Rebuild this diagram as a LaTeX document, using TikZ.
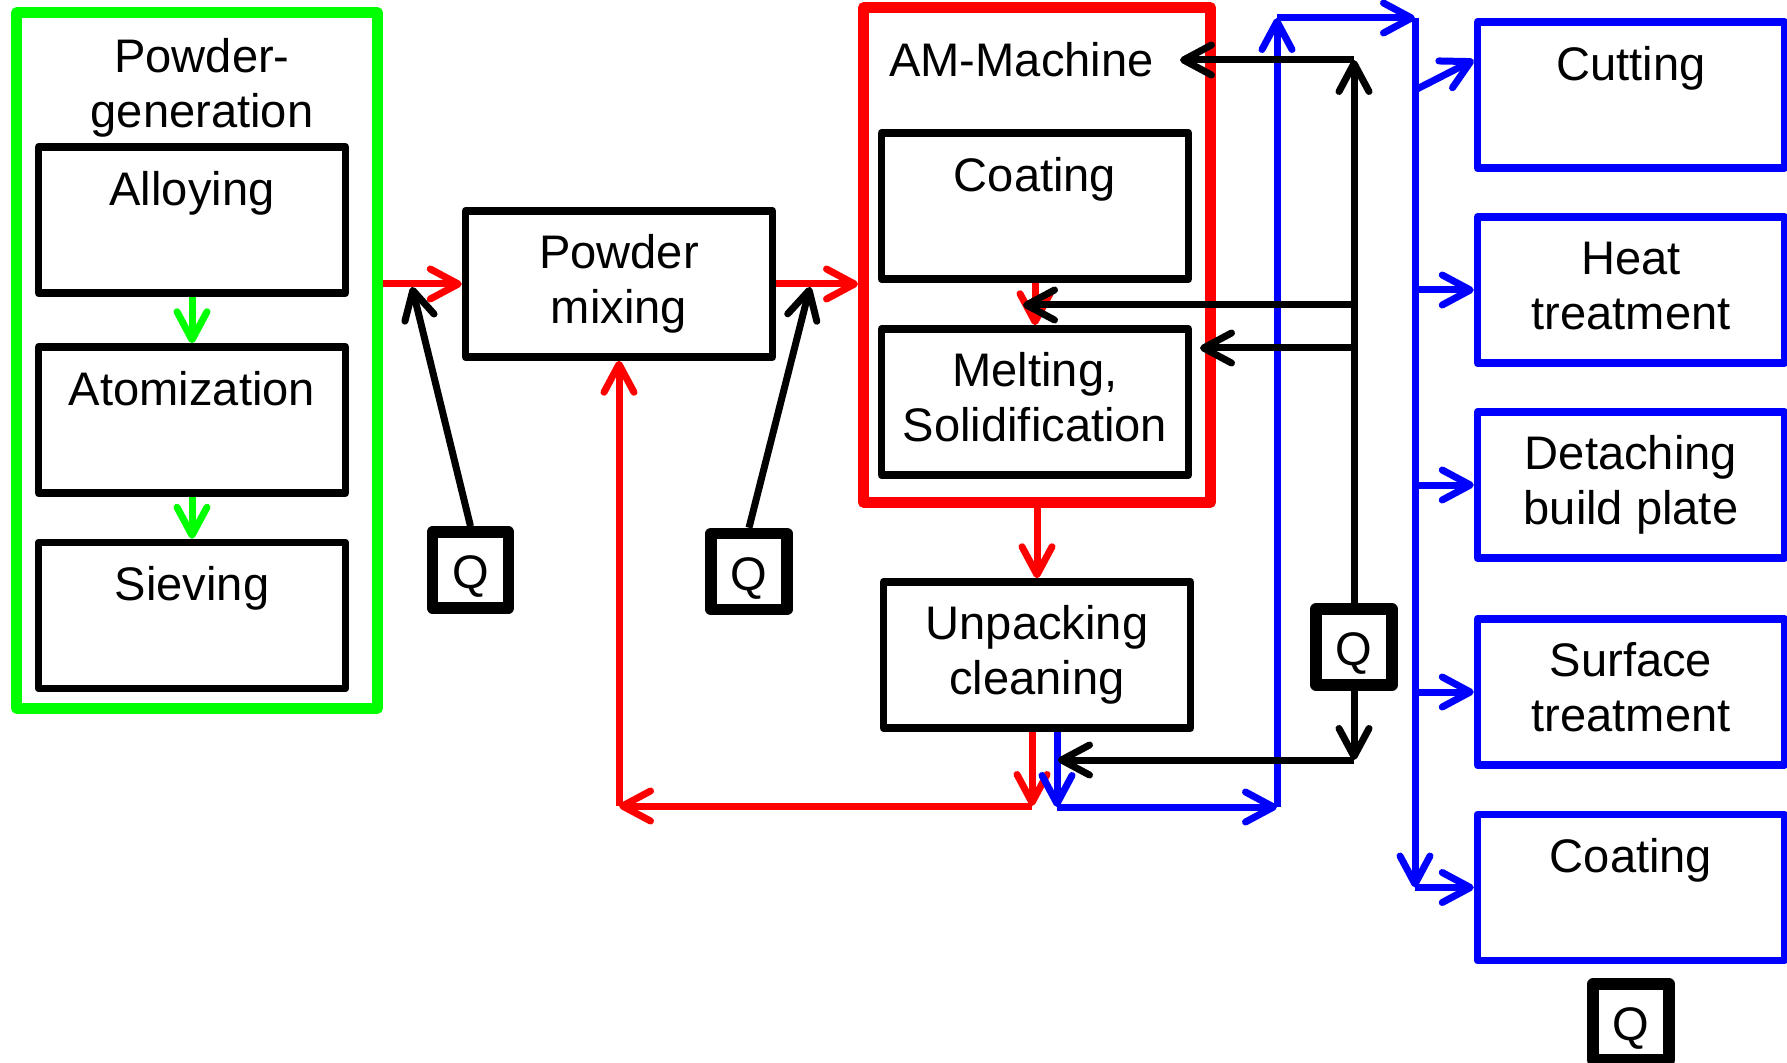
\documentclass[tikz,border=0pt]{standalone}
\usepackage{fontspec}
\setmainfont{Liberation Sans}
\usepackage{xcolor}
\definecolor{flowgreen}{RGB}{0,255,0}
\definecolor{flowred}{RGB}{255,0,0}
\definecolor{flowblue}{RGB}{0,0,255}
\usepackage{tikz}
\usetikzlibrary{positioning,arrows.meta,calc}
\newcommand{\labfont}{\fontsize{13.4pt}{15.6pt}\selectfont}
\tikzset{
  stepbox/.style={rectangle,draw=black,line width=0.75mm,line join=round,
    minimum width=30.7mm,minimum height=14.6mm,inner sep=0pt,align=center,
    font=\labfont},
  postbox/.style={stepbox,draw=flowblue},
  onerow/.style={text height=9.7pt,text depth=18.2pt},
  tworow/.style={text height=25.3pt,text depth=2.8pt},
  qbox/.style={rectangle,draw=black,line width=1.15mm,line join=round,
    minimum size=7.6mm,inner sep=0pt,font=\labfont,
    text height=10.6pt,text depth=0pt},
  framebox/.style={rectangle,line width=1.1mm,line join=round,inner sep=0pt},
  headtext/.style={align=center,inner sep=0pt,font=\labfont},
  fl/.style={-{Straight Barb[length=2.8mm,width=3mm,round]},line width=0.7mm},
}

\begin{document}
\begin{tikzpicture}[x=1mm,y=-1mm]
  \useasboundingbox (0,0) rectangle (178.7,106.3);
  % --- Powder generation ---
  \node[framebox,draw=flowgreen,minimum width=36.1mm,minimum height=69.5mm] (genframe) at (19.7,36.05) {};
  \node[headtext] (gentitle) at (20.2,8.8) {Powder-\\generation};
  \node[stepbox,onerow] (alloy) at (19.2,22.0)  {Alloying};
  \node[stepbox,onerow] (atom)  at (19.2,42.0)  {Atomization};
  \node[stepbox,onerow] (sieve) at (19.2,61.55) {Sieving};
  % --- Mixing and quality checks ---
  \node[stepbox,tworow] (mixing) at (61.9,28.4) {Powder\\mixing};
  \node[qbox] (q1) at (47.05,57.0)  {Q};
  \node[qbox] (q2) at (74.9,57.15)  {Q};
  % --- AM machine ---
  \node[framebox,draw=flowred,minimum width=34.7mm,minimum height=49.45mm] (amframe) at (103.7,25.5) {};
  \node[headtext,anchor=base] (amtitle) at (102.15,7.7) {AM-Machine};
  \node[stepbox,onerow] (coat)   at (103.5,20.6) {Coating};
  \node[stepbox,tworow] (melt)   at (103.5,40.2) {Melting,\\Solidification};
  \node[stepbox,tworow] (unpack) at (103.7,65.5) {Unpacking\\cleaning};
  \node[qbox] (q3) at (135.4,64.7) {Q};
  % --- Post processing ---
  \node[postbox,onerow] (cut)    at (163.1,9.5)   {Cutting};
  \node[postbox,tworow] (heat)   at (163.1,29.0)  {Heat\\treatment};
  \node[postbox,tworow] (detach) at (163.1,48.5)  {Detaching\\build plate};
  \node[postbox,tworow] (surf)   at (163.1,69.2)  {Surface\\treatment};
  \node[postbox,onerow] (coat2)  at (163.1,88.75) {Coating};
  \node[qbox] (q4) at (163.1,102.2) {Q};
  % --- Free ends ---
  \coordinate (q1in) at (41.2,28.7);
  \coordinate (q2in) at (81.0,28.7);
  \coordinate (redturn) at (103.2,80.6);
  \coordinate (redcorner) at (61.9,80.6);
  \coordinate (blueturn) at (105.7,80.7);
  \coordinate (bluecorner) at (127.7,80.7);
  \coordinate (bluetop) at (127.7,1.8);
  \coordinate (bustop) at (141.5,1.8);
  \coordinate (cutfrom) at (141.5,9.0);
  \coordinate (qtop) at (135.4,6.0);
  \coordinate (aminlet) at (118.0,6.0);
  \coordinate (coatgap) at (102.3,30.5);
  \coordinate (meltin) at (120.0,34.8);
  \coordinate (qbot) at (135.4,76.0);
  \coordinate (unpackin) at (105.8,76.0);
  % --- Powder flow ---
  \draw[fl,flowgreen] (alloy.south) -- (atom.north);
  \draw[fl,flowgreen] (atom.south) -- (sieve.north);
  \draw[fl,flowred] (genframe.east |- mixing.west) -- (mixing.west);
  \draw[fl,flowred] (mixing.east) -- (amframe.west |- mixing.east);
  \draw[fl,flowred] (coat.south) -- (melt.north);
  \draw[fl,flowred] (amframe.south) -- (unpack.north);
  \draw[fl,flowred] (unpack.south -| redturn) -- (redturn);
  \draw[fl,flowred] (redturn) -- (redcorner);
  \draw[fl,flowred] (redcorner) -- (mixing.south);
  \draw[fl] (q1.north) -- (q1in);
  \draw[fl] (q2.north) -- (q2in);
  % --- Part flow ---
  \draw[fl,flowblue] (unpack.south -| blueturn) -- (blueturn);
  \draw[fl,flowblue] (blueturn) -- (bluecorner);
  \draw[fl,flowblue] (bluecorner) -- (bluetop);
  \draw[fl,flowblue] (bluetop) -- (bustop);
  \draw[fl,flowblue] (bustop) -- (bustop |- coat2.west);
  \draw[fl,flowblue] (bustop |- coat2.west) -- (coat2.west);
  \draw[fl,flowblue] (cutfrom) -- ([yshift=3.5mm]cut.west);
  \foreach \n in {heat,detach,surf}{\draw[fl,flowblue] (bustop |- \n.west) -- (\n.west);}
  % --- Quality feedback ---
  \draw[fl] (q3.north) -- (qtop);
  \draw[fl] (qtop) -- (aminlet);
  \draw[fl] (qtop |- coatgap) -- (coatgap);
  \draw[fl] (qtop |- meltin) -- (meltin);
  \draw[fl] (q3.south) -- (qbot);
  \draw[fl] (qbot) -- (unpackin);
\end{tikzpicture}
\end{document}
